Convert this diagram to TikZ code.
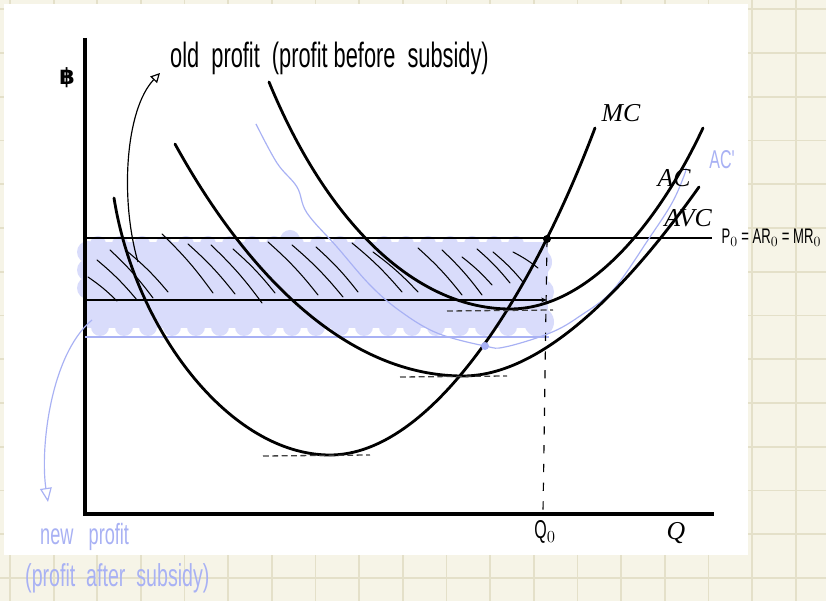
\documentclass[tikz,border=0pt]{standalone}
\usepackage{fontspec}
\usepackage{amsmath}
\usetikzlibrary{arrows.meta,positioning}
\newfontfamily\hand[FakeStretch=0.62]{Liberation Sans}
\newfontfamily\bahtfont{DejaVu Sans}
\newfontfamily\costfont{Liberation Serif}
\definecolor{paper}{HTML}{F6F4E7}
\definecolor{gridLine}{HTML}{E4E0C9}
\definecolor{penBlue}{HTML}{A8B1F4}
\definecolor{cloudBlue}{HTML}{D9DCFB}
\tikzset{
  curve/.style={line width=2.4pt, line cap=round},
  axisline/.style={line width=2.6pt},
  priceline/.style={line width=1.3pt},
  hatch/.style={line width=0.9pt, line cap=round},
  tangent/.style={dashed, dash pattern=on 5pt off 3pt, line width=1.1pt, black!75},
  handtext/.style={font=\hand\fontsize{30}{34}\selectfont, inner sep=0pt},
  costlbl/.style={font=\costfont\itshape\fontsize{22}{26}\selectfont, inner sep=0pt},
}

\begin{document}
\begin{tikzpicture}[x=0.03cm, y=-0.03cm]
    \useasboundingbox (0,0) rectangle (826,601);
    % Paper
    \fill[paper] (0,0) rectangle (826,601);
    \foreach \k in {0,...,18} {
        \draw[gridLine, line width=1.5pt] ({10+43.65*\k},0) -- ++(0,601);
    }
    \foreach \k in {0,...,13} {
        \draw[gridLine, line width=1.5pt] (0,{9.2+43.75*\k}) -- ++(826,0);
    }
    \fill[white] (4,4) rectangle (748,555);

    % Shaded profit area
    \fill[cloudBlue] (86,242) rectangle (548,328);
    \foreach \x in {98,120,...,536} {
        \fill[cloudBlue] (\x,244) circle (8);
    }
    \foreach \x in {100,124,...,530} {
        \fill[cloudBlue] (\x,327) circle (9);
    }
    \foreach \y in {252,270,288} {
        \fill[cloudBlue] (88,\y) circle (11);
    }
    \fill[cloudBlue] (290,240) circle (10);
    \fill[cloudBlue] (538,262) circle (14);
    \fill[cloudBlue] (541,292) circle (13);
    \fill[cloudBlue] (539,322) circle (15);

    % Hatching
    \foreach \xa/\ya/\xb/\yb in {88/277/117/301, 97/260/137/300, 110/250/153/298,
        128/252/168/292, 162/234/213/293, 188/244/235/294, 211/245/262/303,
        233/249/275/293, 268/242/318/295, 292/245/343/297, 316/247/358/292,
        352/243/402/292, 373/252/418/292, 418/248/462/295, 442/250/482/295,
        462/257/492/285, 477/249/510/283, 493/252/523/282, 513/252/538/268} {
        \draw[hatch] (\xa,\ya) to[bend left=5] (\xb,\yb);
    }

    % Axes
    \coordinate (top) at (85,38);
    \coordinate (origin) at (85,514);
    \coordinate (right) at (714,514);
    \draw[axisline] (top) -- (origin) -- (right);
    \node[font=\bahtfont\bfseries\fontsize{19}{22}\selectfont] (baht) at (67,78) {฿};
    \node[costlbl] (qlbl) at (676,533) {Q};

    % Price and profit lines
    \coordinate (pStart) at (85,238);
    \coordinate (pEnd) at (712,238);
    \coordinate (eq) at (547,239);
    \coordinate (acStart) at (85,300);
    \coordinate (acEnd) at (547,300);
    \coordinate (acNewStart) at (85,337);
    \coordinate (acNewEnd) at (549,337);
    \coordinate (qTick) at (543,513);
    \draw[priceline] (pStart) -- (pEnd);
    \draw[priceline, -{Stealth[length=5pt,width=4pt]}] (acStart) -- (acEnd);
    \draw[penBlue, line width=1pt] (acNewStart) -- (acNewEnd);
    \draw[dashed, dash pattern=on 7pt off 9pt, line width=1pt] (eq) -- (qTick);
    \node[right=8pt of pEnd, handtext, font=\hand\fontsize{18}{20}\selectfont] (plbl)
        {P$_0$ = AR$_0$ = MR$_0$};
    \node[handtext, font=\hand\fontsize{22}{24}\selectfont] (q0lbl) at (545,532) {Q$_0$};

    % Cost curves
    \draw[penBlue, line width=1pt] plot[smooth, tension=0.6] coordinates {
        (256,124) (277,163) (297,187) (307,213) (337,247) (370,285) (400,311)
        (437,333) (485,346) (505,347) (550,333) (580,316) (613,290) (650,237)
        (672,203) (684,176) (686,168)};
    \draw[curve] (114,198) .. controls (135,330) and (230,455) .. (330,455)
        .. controls (430,455) and (530,300) .. (595,128);
    \draw[curve] (175,144) .. controls (250,280) and (350,376) .. (463,376)
        .. controls (550,376) and (640,270) .. (699,187);
    \draw[curve] (269,82) .. controls (330,230) and (420,309) .. (510,309)
        .. controls (590,309) and (660,220) .. (703,128);
    \fill (eq) circle (4);
    \fill[penBlue] (485,346) circle (4);

    % Minimum tangents
    \draw[tangent] (263,456) -- (370,455);
    \draw[tangent] (400,377) -- (507,376);
    \draw[tangent] (447,311) -- (553,310);

    % Curve labels
    \node[costlbl] (mc) at (621,113) {MC};
    \node[costlbl] (ac) at (674,178) {AC};
    \node[costlbl] (avc) at (688,218) {AVC};
    \node[handtext, text=penBlue, font=\hand\fontsize{22}{24}\selectfont]
        (acNew) at (722,160) {AC'};

    % Profit annotations
    \coordinate (oldTail) at (138,262);
    \coordinate (oldTip) at (160,73);
    \node[handtext, anchor=west] (oldLbl) at (170,58) {old\ \ profit\ \ (profit before\ \ subsidy)};
    \draw[line width=1pt, -{Triangle[open,length=8pt,width=8pt]}]
        (oldTail) .. controls (120,200) and (125,110) .. (oldTip);

    \coordinate (newTail) at (92,320);
    \coordinate (newTip) at (48,502);
    \draw[penBlue, line width=1pt, -{Triangle[open,length=12pt,width=10pt]}]
        (newTail) .. controls (50,355) and (40,450) .. (newTip);
    \node[handtext, text=penBlue, anchor=west, font=\hand\fontsize{25}{28}\selectfont]
        (newLbl) at (40,537) {new\ \ \ profit};
    \node[handtext, text=penBlue, anchor=west, font=\hand\fontsize{27}{30}\selectfont]
        (afterLbl) at (25,578) {(profit\ \ after\ \ subsidy)};
\end{tikzpicture}
\end{document}
